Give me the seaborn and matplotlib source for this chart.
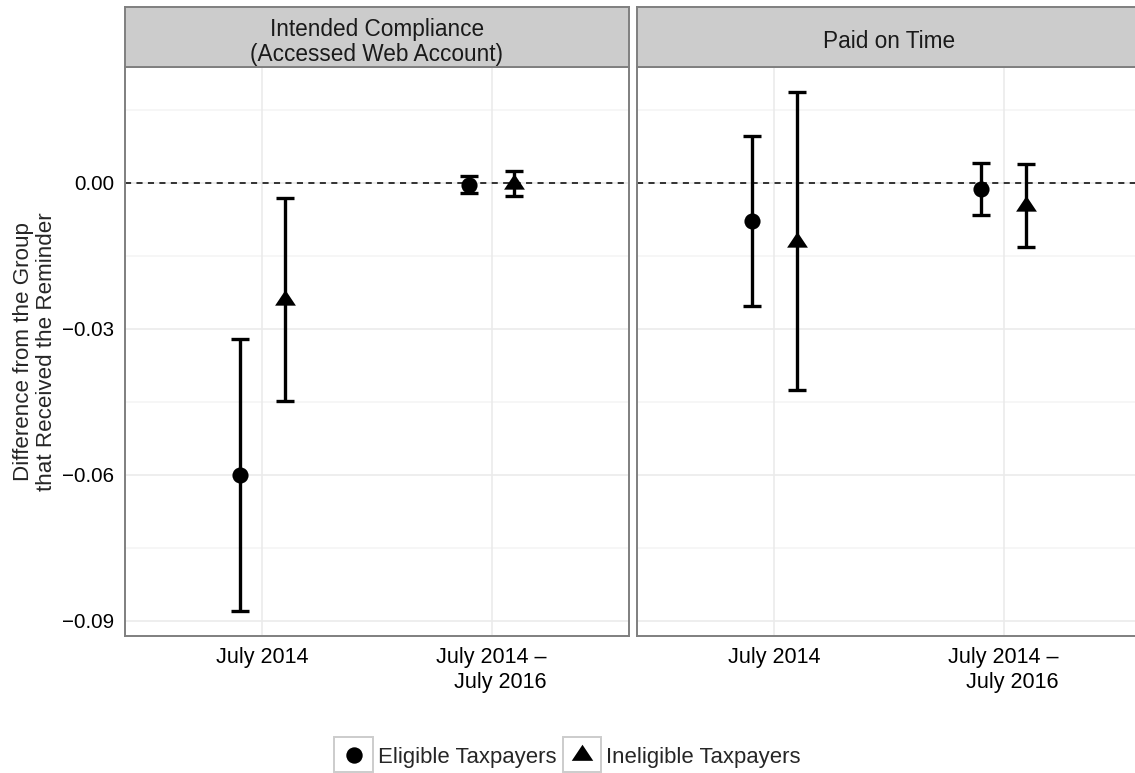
import numpy as np
import pandas as pd
import matplotlib
matplotlib.use("Agg")
import matplotlib.pyplot as plt
import seaborn as sns
from matplotlib.patches import Rectangle
from matplotlib.lines import Line2D
from matplotlib.legend_handler import HandlerTuple, HandlerPatch
from matplotlib.ticker import FuncFormatter, FixedLocator

# ---- data -------------------------------------------------------------
panels = ["Intended Compliance\n(Accessed Web Account)", "Paid on Time"]
periods = ["July 2014", "July 2014 \u2013\nJuly 2016"]
groups = ["Eligible Taxpayers", "Ineligible Taxpayers"]

# order within each panel: (2014, eligible), (2014, ineligible),
#                          (2014-16, eligible), (2014-16, ineligible)
compliance_est = [-0.0600, -0.0240, -0.0004, -0.0003]
compliance_lo = [-0.0879, -0.0448, -0.0021, -0.0028]
compliance_hi = [-0.0321, -0.0031, 0.0015, 0.0025]

paid_est = [-0.0078, -0.0121, -0.0013, -0.0047]
paid_lo = [-0.0254, -0.0425, -0.0066, -0.0131]
paid_hi = [0.0097, 0.0186, 0.0040, 0.0039]

rows = []
for panel, est, lo, hi in [(panels[0], compliance_est, compliance_lo, compliance_hi),
                           (panels[1], paid_est, paid_lo, paid_hi)]:
    k = 0
    for period in periods:
        for group in groups:
            rows.append(dict(panel=panel, period=period, group=group,
                             est=est[k], lo=lo[k], hi=hi[k]))
            k += 1
df = pd.DataFrame(rows)

dodge = {groups[0]: -0.1, groups[1]: 0.1}
df["xpos"] = df["period"].map({p: i for i, p in enumerate(periods)}) + df["group"].map(dodge)

# ---- style ------------------------------------------------------------
sns.set_style("white")
plt.rcParams["font.family"] = ["Liberation Sans", "DejaVu Sans"]
plt.rcParams["axes.unicode_minus"] = True

W, H = 1135, 773
fig = plt.figure(figsize=(W / 100, H / 100), dpi=100)

# triangle with its centroid on the data point
tri = [(0.0, 10.5), (-10.5, -5.2), (10.5, -5.2)]
marker_for = {groups[0]: "o", groups[1]: tri}
size_for = {groups[0]: 135, groups[1]: 225}

panel_px = [(125, 629), (637, 1141)]
top_px, bottom_px, strip_top_px = 67, 636, 7

ylim = (-0.0931, 0.0238)
major_y = [-0.09, -0.06, -0.03, 0.00]
minor_y = [-0.075, -0.045, -0.015, 0.015]
border = "#7F7F7F"

fmt = FuncFormatter(lambda v, pos: f"{v:.2f}".replace("-", "\u2212"))

axes = []
for i, (panel, (x0, x1)) in enumerate(zip(panels, panel_px)):
    ax = fig.add_axes([x0 / W, 1 - bottom_px / H, (x1 - x0) / W, (bottom_px - top_px) / H])
    axes.append(ax)
    sub = df[df["panel"] == panel]

    ax.set_xlim(-0.6, 1.6)
    ax.set_ylim(*ylim)

    # grid
    for y in minor_y:
        ax.axhline(y, color="#F5F5F5", lw=1.2, zorder=0)
    for y in major_y:
        ax.axhline(y, color="#EBEBEB", lw=1.2, zorder=0.5)
    for x in range(len(periods)):
        ax.axvline(x, color="#EBEBEB", lw=1.2, zorder=0.5)

    ax.axhline(0, color="black", lw=1.1, ls=(0, (4, 3.5)), zorder=1)

    ax.errorbar(sub["xpos"], sub["est"],
                yerr=[sub["est"] - sub["lo"], sub["hi"] - sub["est"]],
                fmt="none", ecolor="black", elinewidth=2.4,
                capsize=6.2, capthick=2.4, zorder=2)

    for g in groups:
        gsub = sub[sub["group"] == g]
        sns.scatterplot(data=gsub, x="xpos", y="est", marker=marker_for[g],
                        s=size_for[g], color="black", linewidth=0,
                        ax=ax, legend=False, zorder=3)

    ax.set_xlabel("")
    ax.set_ylabel("")
    ax.set_xticks(range(len(periods)))
    ax.set_xticklabels(periods, fontsize=15.5, linespacing=1.25)
    for t in ax.get_xticklabels():
        t.set_multialignment("right")
    ax.tick_params(axis="x", length=5, width=1.2, color="#333333", pad=3, labelcolor="black")

    ax.yaxis.set_major_locator(FixedLocator(major_y))
    ax.yaxis.set_major_formatter(fmt)
    if i == 0:
        ax.tick_params(axis="y", length=5, width=1.2, color="#333333", pad=3,
                       labelsize=14.8, labelcolor="black")
    else:
        ax.tick_params(axis="y", length=0, labelleft=False)

    for s in ax.spines.values():
        s.set_color(border)
        s.set_linewidth(1.4)

    # facet strip
    sax = fig.add_axes([x0 / W, 1 - top_px / H, (x1 - x0) / W, (top_px - strip_top_px) / H])
    sax.set_facecolor("#CCCCCC")
    sax.set_xticks([])
    sax.set_yticks([])
    for s in sax.spines.values():
        s.set_color(border)
        s.set_linewidth(1.4)
    sax.text(0.5, 0.42, panel, ha="center", va="center", fontsize=16.3,
             color="#1A1A1A", linespacing=1.12, transform=sax.transAxes)

fig.text(35 / W, 1 - ((top_px + bottom_px) / 2) / H,
         "Difference from the Group\nthat Received the Reminder",
         rotation=90, ha="center", va="center", fontsize=16.1,
         linespacing=1.15, multialignment="center")


# legend key box: a tall square-ish frame centred on the key marker
def key_box(legend, orig_handle, xdescent, ydescent, width, height, fontsize):
    bh = 1.6 * fontsize
    return Rectangle((-xdescent, height / 2 - ydescent - bh / 2), width, bh)


handles = []
for g in groups:
    box = Rectangle((0, 0), 1, 1, facecolor="white", edgecolor="#CCCCCC", lw=1.4)
    mk = Line2D([], [], ls="none", marker=marker_for[g], color="black",
                markersize=11.8 if g == groups[0] else 15.5, markeredgewidth=0)
    handles.append((box, mk))
fig.legend(handles=handles, labels=groups, loc="center",
           bbox_to_anchor=(0.5, 1 - 757 / H), ncol=2, frameon=False,
           handler_map={tuple: HandlerTuple(ndivide=1, pad=0),
                        Rectangle: HandlerPatch(patch_func=key_box)},
           handlelength=1.75, handleheight=0.7, handletextpad=0.22,
           columnspacing=0.3, fontsize=15.9, borderpad=0.0)

fig.savefig("out.png", dpi=100)
